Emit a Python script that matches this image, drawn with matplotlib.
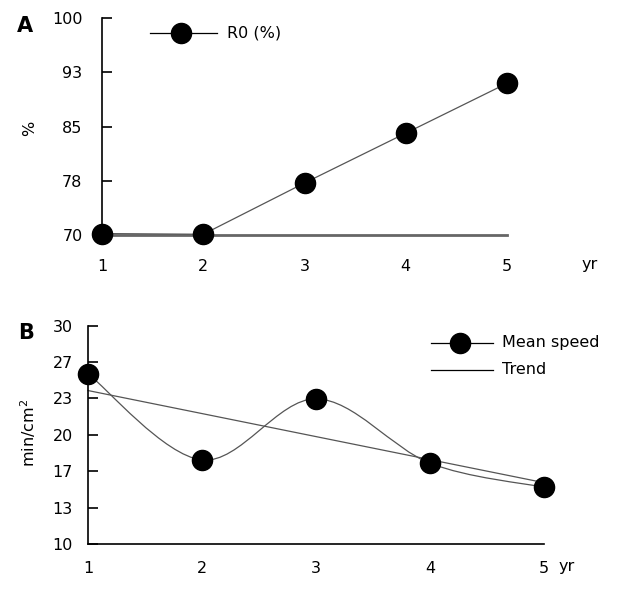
import matplotlib
matplotlib.use('Agg')
import matplotlib.pyplot as plt
import numpy as np
from matplotlib.path import Path
from matplotlib.patches import PathPatch
from matplotlib.lines import Line2D

# ---- data ----
years = [1, 2, 3, 4, 5]
r0_values = [70.2, 70.1, 77.2, 84.1, 91.0]
r0_ticks = [70, 77.5, 85, 92.5, 100]
r0_tick_labels = ['70', '78', '85', '93', '100']
speed_values = [25.6, 17.7, 23.3, 17.4, 15.2]
speed_ticks = [10, 13.333, 16.667, 20, 23.333, 26.667, 30]
speed_tick_labels = ['10', '13', '17', '20', '23', '27', '30']
x_tick_labels = ['1', '2', '3', '4', '5']

plt.rcParams['font.family'] = ['DejaVu Sans']
FS = 11.5
W, H = 630, 592

fig = plt.figure(figsize=(W / 100, H / 100), dpi=100)


def fx(px):
    return px / W


def fy(py):
    return 1 - py / H


LINE_GRAY = '#555555'
MS = 14.5

# ---------------- Panel A ----------------
axA = fig.add_axes([fx(102), fy(235), fx(507) - fx(102), fy(18.3) - fy(235)])
axA.plot(years, r0_values, color=LINE_GRAY, lw=0.9, marker='o', ms=MS,
         mfc='black', mec='black', clip_on=False, zorder=3)
axA.set_xlim(1, 5)
axA.set_ylim(70, 100)
axA.set_xticks(years)
axA.set_xticklabels(x_tick_labels)
axA.set_yticks(r0_ticks)
axA.set_yticklabels(r0_tick_labels)
for s in ['top', 'right']:
    axA.spines[s].set_visible(False)
axA.spines['left'].set_color('black')
axA.spines['left'].set_linewidth(1.2)
axA.spines['bottom'].set_color('#666666')
axA.spines['bottom'].set_linewidth(2.0)
axA.tick_params(axis='y', direction='in', length=7, width=1.2, pad=14, labelsize=FS)
axA.tick_params(axis='x', length=0, pad=17, labelsize=FS)
axA.patch.set_visible(False)

fig.text(fx(590), fy(265), 'yr', fontsize=FS, ha='center', va='center')
fig.text(fx(30), fy(128), '%', fontsize=FS, ha='center', va='center', rotation=90)
fig.text(fx(17), fy(26), 'A', fontsize=15, fontweight='bold', ha='left', va='center')

# legend A
fig.add_artist(Line2D([fx(150), fx(217)], [fy(33), fy(33)], color='black', lw=0.9,
                      transform=fig.transFigure))
fig.add_artist(Line2D([fx(181)], [fy(33)], marker='o', ms=MS, mfc='black', mec='black',
                      transform=fig.transFigure))
fig.text(fx(227), fy(33), 'R0 (%)', fontsize=FS, ha='left', va='center')

# ---------------- Panel B ----------------
axB = fig.add_axes([fx(88), fy(544), fx(544) - fx(88), fy(325.7) - fy(544)])

# smooth curve (Catmull-Rom style Bezier through the data points)
pts = np.column_stack([years, speed_values]).astype(float)
n = len(pts)
verts = [tuple(pts[0])]
codes = [Path.MOVETO]
for i in range(n - 1):
    p0 = pts[i - 1] if i > 0 else pts[i]
    p1 = pts[i]
    p2 = pts[i + 1]
    p3 = pts[i + 2] if i + 2 < n else pts[i + 1]
    c1 = p1 + (p2 - p0) / 6.0
    c2 = p2 - (p3 - p1) / 6.0
    verts += [tuple(c1), tuple(c2), tuple(p2)]
    codes += [Path.CURVE4] * 3
axB.add_patch(PathPatch(Path(verts, codes), fill=False, edgecolor=LINE_GRAY, lw=0.9,
                        zorder=2, clip_on=False))
axB.plot(years, speed_values, linestyle='none', marker='o', ms=MS, mfc='black',
         mec='black', clip_on=False, zorder=3)

# linear trend
coef = np.polyfit(years, speed_values, 1)
trend = np.polyval(coef, years)
axB.plot(years, trend, color=LINE_GRAY, lw=0.9, zorder=2, clip_on=False)

axB.set_xlim(1, 5)
axB.set_ylim(10, 30)
axB.set_xticks(years)
axB.set_xticklabels(x_tick_labels)
axB.set_yticks(speed_ticks)
axB.set_yticklabels(speed_tick_labels)
for s in ['top', 'right']:
    axB.spines[s].set_visible(False)
for s in ['left', 'bottom']:
    axB.spines[s].set_color('black')
    axB.spines[s].set_linewidth(1.2)
axB.tick_params(axis='y', direction='in', length=7, width=1.2, pad=11, labelsize=FS)
axB.tick_params(axis='x', length=0, pad=12, labelsize=FS)
axB.patch.set_visible(False)

fig.text(fx(567), fy(567), 'yr', fontsize=FS, ha='center', va='center')
fig.text(fx(28), fy(433), 'min/cm$^2$', fontsize=FS, ha='center', va='center', rotation=90)
fig.text(fx(18), fy(333), 'B', fontsize=15, fontweight='bold', ha='left', va='center')

# legend B
fig.add_artist(Line2D([fx(431), fx(493)], [fy(343), fy(343)], color='black', lw=0.9,
                      transform=fig.transFigure))
fig.add_artist(Line2D([fx(460)], [fy(343)], marker='o', ms=MS, mfc='black', mec='black',
                      transform=fig.transFigure))
fig.text(fx(502), fy(343), 'Mean speed', fontsize=FS, ha='left', va='center')
fig.add_artist(Line2D([fx(431), fx(493)], [fy(370), fy(370)], color='black', lw=0.9,
                      transform=fig.transFigure))
fig.text(fx(502), fy(370), 'Trend', fontsize=FS, ha='left', va='center')

fig.savefig('out.png', dpi=100)
